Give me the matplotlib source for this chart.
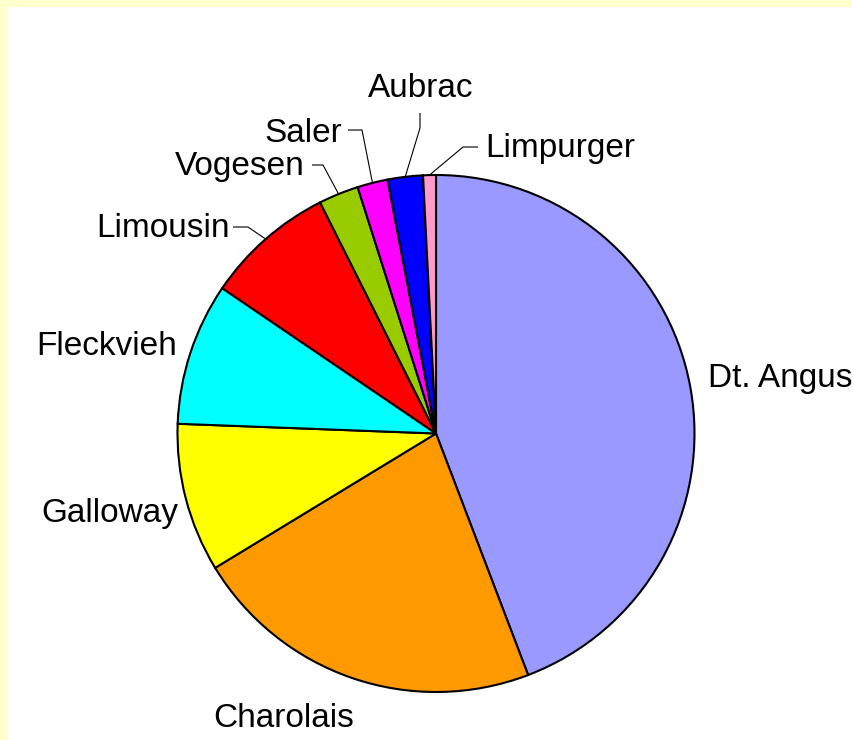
import numpy as np
import matplotlib
matplotlib.use("Agg")
import matplotlib.pyplot as plt

# Rassen und Anteile (%), im Uhrzeigersinn ab 12 Uhr
breeds = ['Dt. Angus', 'Charolais', 'Galloway', 'Fleckvieh', 'Limousin',
          'Vogesen', 'Saler', 'Aubrac', 'Limpurger']
shares = [44.2, 22.1, 9.3, 8.9, 8.1, 2.5, 1.9, 2.2, 0.8]
colors = ['#9999FF', '#FF9900', '#FFFF00', '#00FFFF', '#FF0000',
          '#99CC00', '#FF00FF', '#0000FF', '#FF99CC']

plt.rcParams['font.family'] = ['Liberation Sans', 'DejaVu Sans']

W, H = 853, 740
fig = plt.figure(figsize=(W / 100, H / 100), dpi=100)
fig.patch.set_facecolor('#FFFFCC')
# white area, units = pixels (y measured from image bottom)
ax = fig.add_axes([8 / W, 0, (W - 8) / W, (H - 7) / H])
ax.add_patch(plt.Rectangle((8, 0), W, H, color='white', zorder=0))


def py(y):
    # image row -> axes y
    return H - y


cx, cy, r = 436, py(433.5), 258.5
wedges, _ = ax.pie(shares, colors=colors, startangle=90, counterclock=False,
                   center=(cx, cy), radius=r, frame=True,
                   wedgeprops=dict(edgecolor='black', linewidth=1.5))
ax.set_xlim(8, W)
ax.set_ylim(0, H - 7)
ax.set_aspect('equal')
ax.axis('off')

fs = 24
# label anchor: (x, baseline y, ha) in image pixels
label_pos = {
    'Dt. Angus': (708, 387, 'left'),
    'Charolais': (213, 727, 'left'),
    'Galloway': (41, 522, 'left'),
    'Fleckvieh': (36, 355, 'left'),
    'Limousin': (230, 237, 'right'),
    'Vogesen': (305, 175, 'right'),
    'Saler': (342, 142, 'right'),
    'Aubrac': (368, 97, 'left'),
    'Limpurger': (485, 157, 'left'),
}
# leader elbows: (start, elbow) in image pixels
leaders = {
    'Limousin': ((233, 227), (248, 227)),
    'Vogesen': ((312, 165), (323, 165)),
    'Saler': ((348, 130), (362, 130)),
    'Aubrac': ((420, 113), (420, 128)),
    'Limpurger': ((478, 147), (463, 147)),
}

for w, name in zip(wedges, breeds):
    x, y, ha = label_pos[name]
    ax.text(x, py(y), name, fontsize=fs, ha=ha, va='baseline', color='black')
    if name in leaders:
        mid = np.deg2rad((w.theta1 + w.theta2) / 2)
        ex, ey = cx + r * np.cos(mid), cy + r * np.sin(mid)
        (x0, y0), (x1, y1) = leaders[name]
        ax.plot([x0, x1, ex], [py(y0), py(y1), ey], color='black',
                linewidth=0.8, solid_capstyle='butt')

fig.savefig('out.png', dpi=100, facecolor=fig.get_facecolor())
